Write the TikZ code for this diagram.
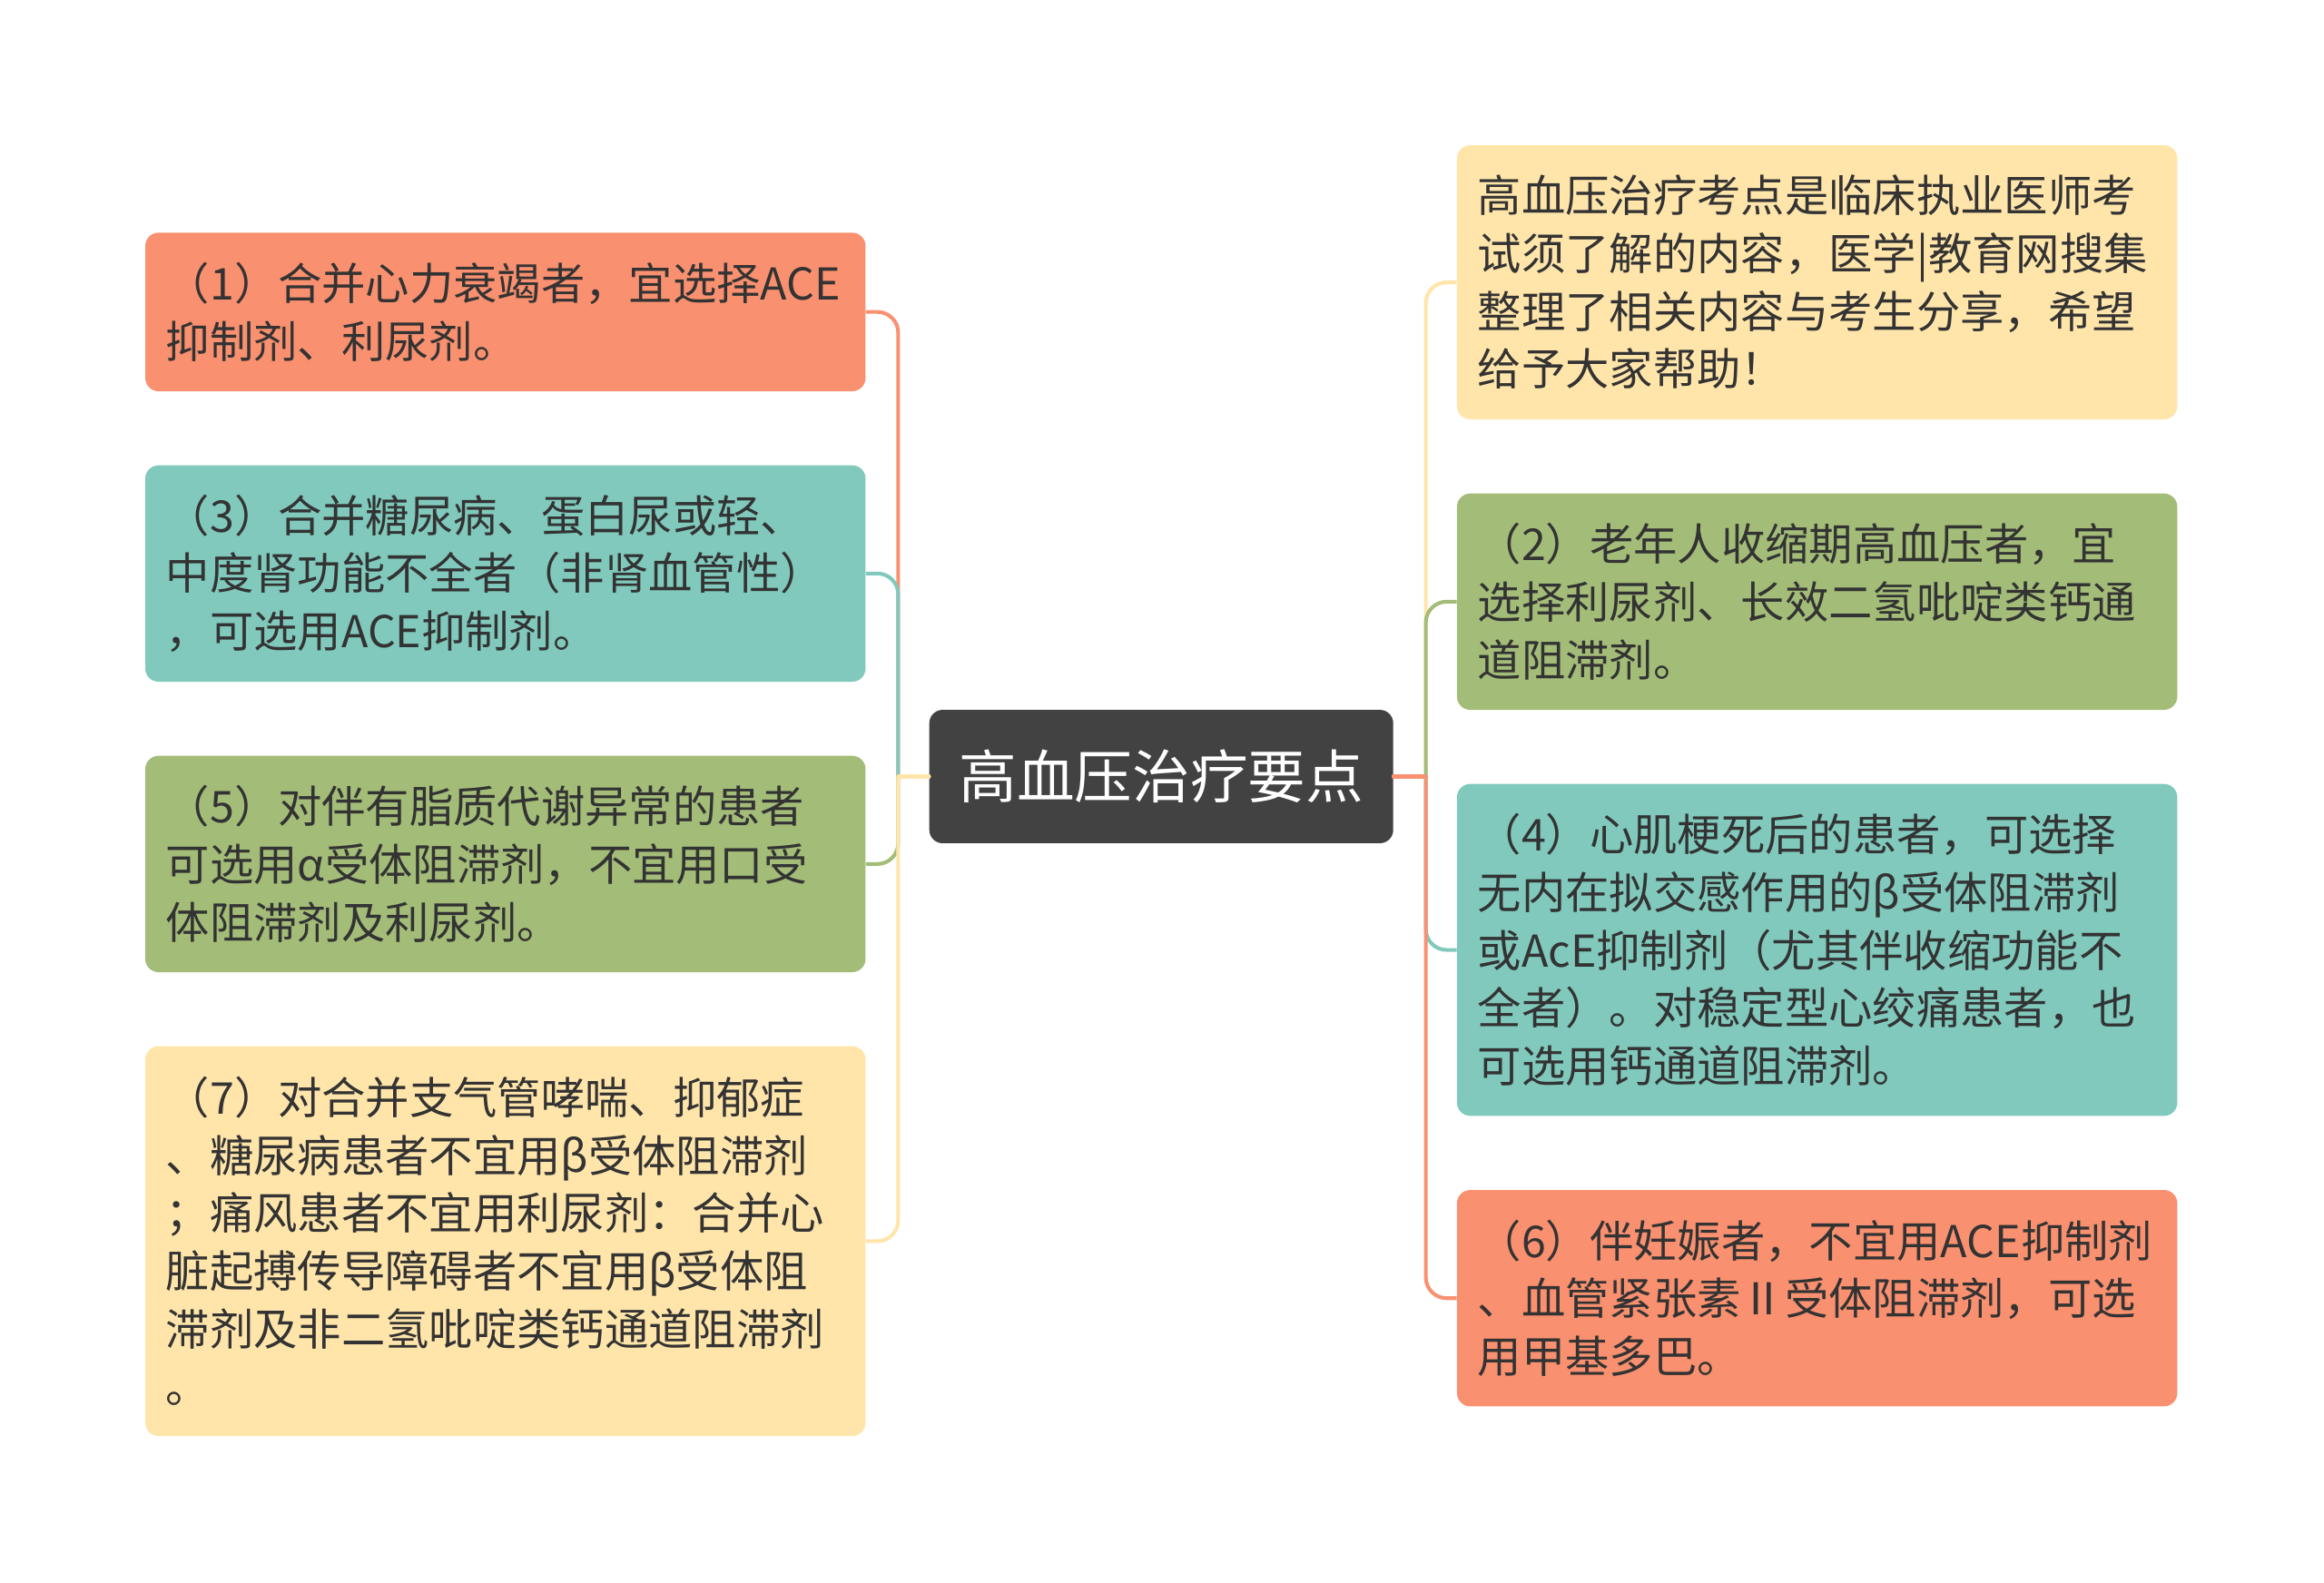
\documentclass[tikz,border=0pt]{standalone}
\usepackage{fontspec}
\setmainfont{Noto Sans CJK SC}
\definecolor{cO}{HTML}{F9906F}
\definecolor{cT}{HTML}{80C9BC}
\definecolor{cG}{HTML}{A3BC78}
\definecolor{cY}{HTML}{FFE5AA}
\definecolor{cC}{HTML}{424242}
\definecolor{txt}{HTML}{333333}
\begin{document}
\begin{tikzpicture}[x=1pt,y=-1pt,
  box/.style={rectangle, rounded corners=9pt, minimum width=486pt, text width=458pt,
    inner xsep=14pt, inner ysep=0pt, align=left, text=txt,
    font=\fontsize{29.6pt}{39pt}\selectfont},
  conn/.style={line width=2.5pt, rounded corners=14pt},
  stub/.style={line width=2.5pt, line cap=round}]
\useasboundingbox (0,0) rectangle (1568,1068);

\node[box, fill=cO, minimum height=107pt] (b1) at (341,210.5) {（1）合并心力衰竭者，宜选择ACE\\抑制剂、利尿剂。};
\node[box, fill=cT, minimum height=146pt] (b3) at (341,387) {（3）合并糖尿病、蛋白尿或轻、\\中度肾功能不全者（非肾血管性）\\，可选用ACE抑制剂。};
\node[box, fill=cG, minimum height=146pt] (b5) at (341,583) {（5）对伴有脂质代谢异常的患者\\可选用α受体阻滞剂，不宜用口受\\体阻滞剂及利尿剂。};
\node[box, fill=cY, minimum height=263pt] (b7) at (341,837.5) {（7）对合并支气管哮喘、抑郁症\\、糖尿病患者不宜用β受体阻滞剂\\；痛风患者不宜用利尿剂：合并心\\脏起搏传导障碍者不宜用β受体阻\\滞剂及非二氢吡啶类钙通道阻滞剂\\。};

\node[box, fill=cY, minimum height=185pt] (a) at (1226,190.5) {高血压治疗考点是临床执业医师考\\试须了解的内容，医学|教育网搜集\\整理了相关内容与考生分享，希望\\给予大家帮助！};
\node[box, fill=cG, minimum height=146pt] (b2) at (1226,406) {（2）老年人收缩期高血压者，宜\\选择利尿剂、长效二氢吡啶类钙通\\道阻滞剂。};
\node[box, fill=cT, minimum height=224pt] (b4) at (1226,641) {（4）心肌梗死后的患者，可选择\\无内在拟交感作用的β受体阻滞剂\\或AcE抑制剂（尤其伴收缩功能不\\全者）。对稳定型心绞痛患者，也\\可选用钙通道阻滞剂。};
\node[box, fill=cO, minimum height=146pt] (b6) at (1226,876) {（6）伴妊娠者，不宜用ACE抑制剂\\、血管紧张素Ⅱ受体阻滞剂，可选\\用甲基多巴。};

\node[rectangle, rounded corners=9pt, fill=cC, minimum width=313pt, minimum height=90pt,
  text=white, font=\fontsize{39pt}{44pt}\selectfont] (c) at (783.5,524) {高血压治疗要点};

\coordinate (jl) at (606,524);
\coordinate (jr) at (962,524);

\draw[stub, cO] (c.west) -- (jl);
\draw[conn, cO] (jl) |- (b1.east);
\draw[stub, cT] (c.west) -- (jl);
\draw[conn, cT] (jl) |- (b3.east);
\draw[stub, cG] (c.west) -- (jl);
\draw[conn, cG] (jl) |- (b5.east);
\draw[stub, cY] (c.west) -- (jl);
\draw[conn, cY] (jl) |- (b7.east);

\draw[stub, cY] (c.east) -- (jr);
\draw[conn, cY] (jr) |- (a.west);
\draw[stub, cG] (c.east) -- (jr);
\draw[conn, cG] (jr) |- (b2.west);
\draw[stub, cT] (c.east) -- (jr);
\draw[conn, cT] (jr) |- (b4.west);
\draw[stub, cO] (c.east) -- (jr);
\draw[conn, cO] (jr) |- (b6.west);
\end{tikzpicture}
\end{document}
